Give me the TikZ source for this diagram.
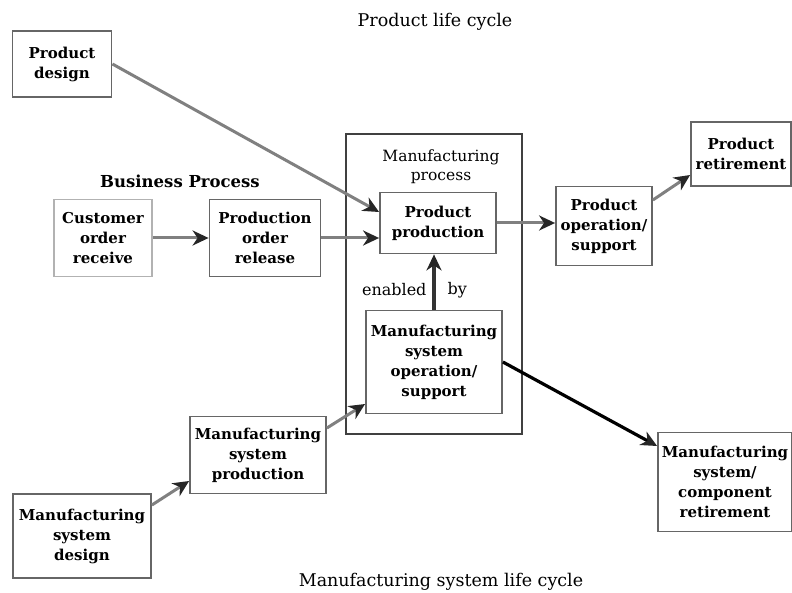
\documentclass[tikz,border=0pt]{standalone}
\usepackage{fontspec}
\setmainfont{DejaVu Serif}
\usetikzlibrary{arrows.meta}

\begin{document}
\begin{tikzpicture}[x=1pt,y=-1pt,
  box/.style={draw=black!60, line width=1.8pt, fill=white, align=center,
    font=\bfseries\fontsize{15}{20}\selectfont, inner sep=0pt},
  flow/.style={draw=black!50, line width=3pt,
    -{Stealth[length=16pt,width=15pt,inset=5pt,black!85]}},
  heading/.style={align=center, font=\fontsize{17.5}{20}\selectfont}]
\useasboundingbox (0,0) rectangle (792,593);

% product life cycle
\node[heading] (plc) at (435,22) {Product life cycle};
\node[box, minimum width=99, minimum height=66] (pdesign) at (62,64) {Product\\design};
\node[box, minimum width=100, minimum height=64] (pret) at (741,154) {Product\\retirement};
\node[box, minimum width=96, minimum height=79] (pos) at (604,226) {Product\\operation/\\support};

% business process
\node[heading, font=\bfseries\fontsize{16.5}{20}\selectfont] (bp) at (180,181) {Business Process};
\node[box, draw=black!30, minimum width=98, minimum height=77] (corder) at (103,238) {Customer\\order\\receive};
\node[box, minimum width=111, minimum height=77] (porder) at (265,238) {Production\\order\\release};

% manufacturing process
\node[draw=black!75, line width=1.4pt, minimum width=176, minimum height=300] (mproc) at (434,284) {};
\node[heading, font=\fontsize{15.5}{19}\selectfont] (mproclbl) at (441,167) {Manufacturing\\process};
\node[box, minimum width=116, minimum height=61] (pprod) at (438,223) {Product\\production};
\node[box, minimum width=136, minimum height=103] (msos) at (434,362) {Manufacturing\\system\\operation/\\support};
\node[heading, font=\fontsize{16}{19}\selectfont, anchor=east] (enab) at (430,290) {enabled};
\node[heading, font=\fontsize{16}{19}\selectfont, anchor=west] (by) at (444,290) {by};

% manufacturing system life cycle
\node[box, minimum width=136, minimum height=77] (msprod) at (258,455) {Manufacturing\\system\\production};
\node[box, minimum width=138, minimum height=84] (msdes) at (82,536) {Manufacturing\\system\\design};
\node[box, minimum width=134, minimum height=99] (msret) at (725,482) {Manufacturing\\system/\\component\\retirement};
\node[heading] (mslc) at (441,582) {Manufacturing system life cycle};

\draw[flow] (pdesign.east) -- ([yshift=11pt]pprod.west);
\draw[flow] (corder.east) -- (porder.west);
\draw[flow] (porder.east) -- (porder.east -| pprod.west);
\draw[flow] (pprod.east) -- (pprod.east -| pos.west);
\draw[flow] ([yshift=26pt]pos.east) -- ([yshift=-21pt]pret.west);
\draw[flow] ([yshift=31pt]msdes.east) -- ([yshift=-26pt]msprod.west);
\draw[flow] ([yshift=27pt]msprod.east) -- ([yshift=-42pt]msos.west);
\draw[flow, draw=black!80, line width=3.6pt] (msos.north) -- (msos.north |- pprod.south);
\draw[flow, draw=black, line width=3.2pt] (msos.east) -- ([yshift=36pt]msret.west);

\end{tikzpicture}
\end{document}
